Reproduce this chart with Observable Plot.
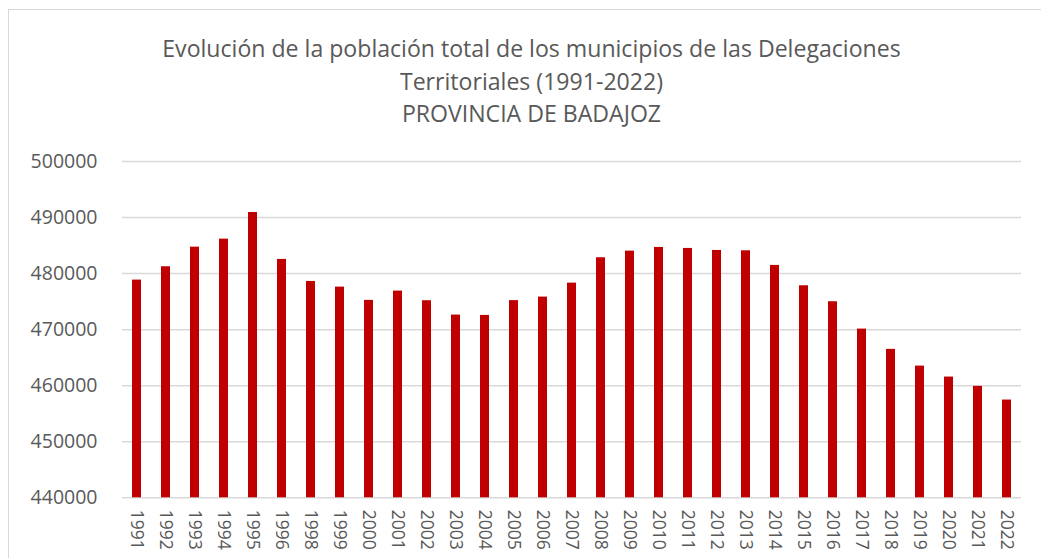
<!DOCTYPE html>
<html>
<head>
<meta charset="utf-8">
<script src="https://cdn.jsdelivr.net/npm/d3@7"></script>
<script src="https://cdn.jsdelivr.net/npm/@observablehq/plot@0.6"></script>
<style>
  html, body { margin: 0; padding: 0; background: #fff; width: 1041px; height: 558px; overflow: hidden; }
  #frame { position: absolute; left: 8px; top: 9px; width: 1100px; height: 600px; border-left: 1.5px solid #d9d9d9; border-top: 1.5px solid #d9d9d9; box-sizing: border-box; }
  #title { position: absolute; left: 0; top: 32px; width: 1063px; text-align: center; font-family: "Open Sans", sans-serif; font-size: 23.1px; line-height: 32.5px; color: #595959; }
  #chart { position: absolute; left: 0; top: 130px; }
</style>
</head>
<body>
<div id="frame"></div>
<div id="title">Evolución de la población total de los municipios de las Delegaciones<br>Territoriales (1991-2022)<br>PROVINCIA DE BADAJOZ</div>
<div id="chart"></div>
<script>
const years = ["1991","1992","1993","1994","1995","1996","1998","1999","2000","2001","2002","2003","2004","2005","2006","2007","2008","2009","2010","2011","2012","2013","2014","2015","2016","2017","2018","2019","2020","2021","2022"];
const population = [478840, 481220, 484720, 486150, 490900, 482530, 478600, 477590, 475220, 476880, 475160, 472600, 472540, 475180, 475810, 478300, 482830, 484010, 484670, 484490, 484130, 484070, 481460, 477830, 474980, 470100, 466480, 463500, 461540, 459880, 457440];
const yTicks = [440000, 450000, 460000, 470000, 480000, 490000, 500000];

const data = years.map((y, i) => ({year: y, value: population[i]}));

const chart = Plot.plot({
  width: 1041,
  height: 428,
  marginTop: 31,
  marginBottom: 60.7,
  marginLeft: 122,
  marginRight: 20,
  style: {fontFamily: "'Open Sans', sans-serif", color: "#595959", background: "transparent"},
  x: {domain: years, paddingInner: 0.69, paddingOuter: 0.345, label: null},
  y: {domain: [440000, 500000], ticks: yTicks, label: null},
  marks: [
    Plot.gridY(yTicks, {stroke: "#d9d9d9", strokeOpacity: 1, strokeWidth: 1.5}),
    Plot.rectY(data, {x: "year", y1: 440000, y2: "value", fill: "#c00000"}),
    Plot.axisY(yTicks, {tickSize: 0, tickPadding: 25, tickFormat: d => String(d), fontSize: 19.5, fill: "#595959", label: null}),
    Plot.axisX({tickSize: 0, tickPadding: 12, tickRotate: 90, fontSize: 17.5, fill: "#595959", label: null})
  ]
});
document.getElementById("chart").appendChild(chart);
</script>
</body>
</html>
